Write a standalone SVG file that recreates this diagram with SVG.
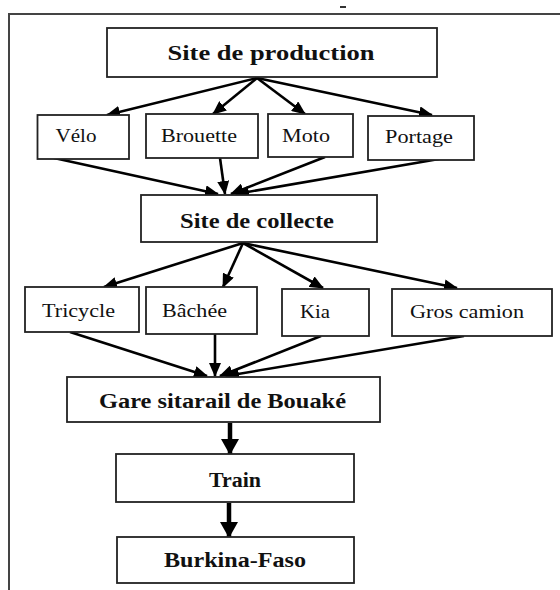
<svg xmlns="http://www.w3.org/2000/svg" width="560" height="590" viewBox="0 0 560 590">
<style>
.box{fill:#fff;stroke:#222;stroke-width:1.8}
.t{font-family:"Liberation Serif","Times New Roman",serif;fill:#111;text-anchor:middle}
.b{font-weight:bold;font-size:20px}
.r{font-size:18px}
.c{stroke:#000;stroke-width:2.6;fill:none;marker-end:url(#ah)}
.v{stroke:#000;stroke-width:4.5;fill:none;marker-end:url(#ahb)}
</style>
<defs>
<marker id="ah" markerUnits="userSpaceOnUse" markerWidth="14" markerHeight="12" refX="13" refY="6" orient="auto">
<path d="M0,0 L14,6 L0,12 z" fill="#000"/>
</marker>
<marker id="ahb" markerUnits="userSpaceOnUse" markerWidth="16" markerHeight="18" refX="15" refY="9" orient="auto">
<path d="M0,0 L16,9 L0,18 z" fill="#000"/>
</marker>
</defs>
<rect width="560" height="590" fill="#fff"/>
<g id="frame">
<path d="M9,590 L9,14 L560,14" fill="none" stroke="#444" stroke-width="2"/>
<line x1="340" y1="7" x2="346" y2="7" stroke="#333" stroke-width="2"/>
</g>
<g id="connectors">
<line class="c" x1="257" y1="78" x2="107" y2="115"/>
<line class="c" x1="257" y1="78" x2="213" y2="114"/>
<line class="c" x1="257" y1="78" x2="305" y2="114"/>
<line class="c" x1="257" y1="78" x2="432" y2="115"/>
<line class="c" x1="54" y1="158" x2="218" y2="194"/>
<line class="c" x1="220" y1="158" x2="225" y2="194"/>
<line class="c" x1="325" y1="157" x2="231" y2="194"/>
<line class="c" x1="439" y1="159" x2="236" y2="194"/>
<line class="c" x1="243" y1="243" x2="104" y2="287"/>
<line class="c" x1="243" y1="243" x2="223" y2="287"/>
<line class="c" x1="243" y1="243" x2="323" y2="288"/>
<line class="c" x1="243" y1="243" x2="457" y2="288"/>
<line class="c" x1="70" y1="332" x2="207" y2="376"/>
<line class="c" x1="215" y1="334" x2="215" y2="376"/>
<line class="c" x1="321" y1="336" x2="220" y2="376"/>
<line class="c" x1="464" y1="336" x2="226" y2="376"/>
<line class="v" x1="230" y1="423" x2="230" y2="454"/>
<line class="v" x1="229" y1="503" x2="229" y2="537"/>
</g>
<g id="site-production">
<rect class="box" x="107" y="28" width="330" height="49"/>
<text class="t b" x="271" y="60" textLength="207" lengthAdjust="spacingAndGlyphs">Site de production</text>
</g>
<g id="velo">
<rect class="box" x="37.5" y="115" width="91.5" height="44"/>
<text class="t r" x="76" y="142" textLength="41" lengthAdjust="spacingAndGlyphs">Vélo</text>
</g>
<g id="brouette">
<rect class="box" x="146" y="114" width="112" height="44"/>
<text class="t r" x="199" y="142" textLength="76" lengthAdjust="spacingAndGlyphs">Brouette</text>
</g>
<g id="moto">
<rect class="box" x="268" y="114" width="85" height="43"/>
<text class="t r" x="306" y="142" textLength="48" lengthAdjust="spacingAndGlyphs">Moto</text>
</g>
<g id="portage">
<rect class="box" x="368" y="116" width="106" height="44"/>
<text class="t r" x="419" y="143" textLength="68" lengthAdjust="spacingAndGlyphs">Portage</text>
</g>
<g id="site-collecte">
<rect class="box" x="141" y="195" width="236" height="47"/>
<text class="t b" x="257" y="228" textLength="154" lengthAdjust="spacingAndGlyphs">Site de collecte</text>
</g>
<g id="tricycle">
<rect class="box" x="25" y="287" width="114" height="45"/>
<text class="t r" x="78.5" y="317" textLength="73" lengthAdjust="spacingAndGlyphs">Tricycle</text>
</g>
<g id="bachee">
<rect class="box" x="146" y="287" width="111" height="47"/>
<text class="t r" x="194.5" y="317" textLength="65" lengthAdjust="spacingAndGlyphs">Bâchée</text>
</g>
<g id="kia">
<rect class="box" x="282" y="289" width="87" height="47"/>
<text class="t r" x="315" y="318" textLength="30" lengthAdjust="spacingAndGlyphs">Kia</text>
</g>
<g id="gros-camion">
<rect class="box" x="392" y="289" width="160" height="47"/>
<text class="t r" x="467" y="318" textLength="114" lengthAdjust="spacingAndGlyphs">Gros camion</text>
</g>
<g id="gare">
<rect class="box" x="67" y="377" width="313" height="45"/>
<text class="t b" x="222.5" y="408" textLength="247" lengthAdjust="spacingAndGlyphs">Gare sitarail de Bouaké</text>
</g>
<g id="train">
<rect class="box" x="116" y="454" width="238" height="48"/>
<text class="t b" x="235" y="487" textLength="52" lengthAdjust="spacingAndGlyphs">Train</text>
</g>
<g id="burkina">
<rect class="box" x="117" y="537" width="237" height="46"/>
<text class="t b" x="235" y="567" textLength="142" lengthAdjust="spacingAndGlyphs">Burkina-Faso</text>
</g>
</svg>
